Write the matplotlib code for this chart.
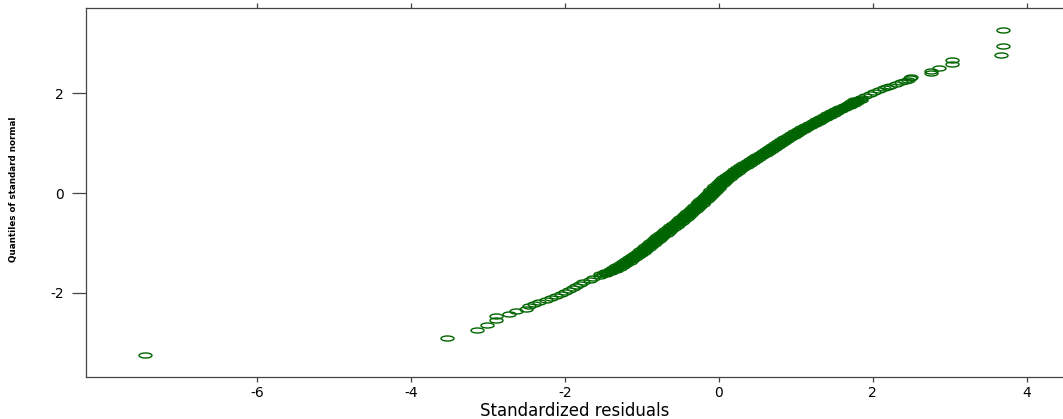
import numpy as np
import matplotlib
matplotlib.use("Agg")
import matplotlib.pyplot as plt
from matplotlib.path import Path

# QQ plot of standardized residuals
tail_lo_x = [-7.46, -3.53, -3.14, -3.01, -2.90, -2.90, -2.72, -2.63, -2.51, -2.47,
             -2.40, -2.33, -2.25, -2.18, -2.12, -2.05, -2.00, -1.95, -1.90, -1.85,
             -1.80, -1.76, -1.68, -1.64]
tail_lo_y = [-3.23, -2.90, -2.73, -2.63, -2.54, -2.46, -2.41, -2.35, -2.31, -2.26,
             -2.22, -2.18, -2.14, -2.10, -2.06, -2.02, -1.98, -1.94, -1.90, -1.86,
             -1.82, -1.78, -1.74, -1.70]

# dense middle part of the band
mid_y = [-1.66, -1.62, -1.60, -1.58, -1.56, -1.54, -1.52, -1.50, -1.48, -1.46,
         -1.44, -1.42, -1.40, -1.38, -1.36, -1.34, -1.32, -1.30, -1.28, -1.26,
         -1.24, -1.22, -1.20, -1.18, -1.16, -1.14, -1.12, -1.10, -1.08, -1.06,
         -1.04, -1.02, -1.00, -0.98, -0.96, -0.94, -0.92, -0.90, -0.88, -0.86,
         -0.84, -0.82, -0.80, -0.78, -0.76, -0.74, -0.72, -0.70, -0.68, -0.66,
         -0.64, -0.62, -0.60, -0.58, -0.56, -0.54, -0.52, -0.50, -0.48, -0.46,
         -0.44, -0.42, -0.40, -0.38, -0.36, -0.34, -0.32, -0.30, -0.28, -0.26,
         -0.24, -0.22, -0.20, -0.18, -0.16, -0.14, -0.12, -0.10, -0.08, -0.06,
         -0.04, -0.02, 0.00, 0.02, 0.04, 0.06, 0.08, 0.10, 0.12, 0.14,
         0.16, 0.18, 0.20, 0.22, 0.24, 0.26, 0.28, 0.30, 0.32, 0.34,
         0.36, 0.38, 0.40, 0.42, 0.44, 0.46, 0.48, 0.50, 0.52, 0.54,
         0.56, 0.58, 0.60, 0.62, 0.64, 0.66, 0.68, 0.70, 0.72, 0.74,
         0.76, 0.78, 0.80, 0.82, 0.84, 0.86, 0.88, 0.90, 0.92, 0.94,
         0.96, 0.98, 1.00, 1.02, 1.04, 1.06, 1.08, 1.10, 1.12, 1.14,
         1.16, 1.18, 1.20, 1.22, 1.24, 1.26, 1.28, 1.30, 1.32, 1.34,
         1.36, 1.38, 1.40, 1.42, 1.44, 1.46, 1.48, 1.50, 1.52, 1.54,
         1.56, 1.58, 1.60, 1.62, 1.64, 1.66, 1.68, 1.70, 1.72, 1.74,
         1.76, 1.78, 1.80, 1.82, 1.84, 1.86, 1.88, 1.90]
mid_x = [-1.55, -1.50, -1.47, -1.44, -1.41, -1.38, -1.35, -1.33, -1.31, -1.29,
         -1.26, -1.24, -1.22, -1.20, -1.18, -1.17, -1.15, -1.13, -1.11, -1.09,
         -1.07, -1.05, -1.03, -1.01, -0.99, -0.98, -0.96, -0.95, -0.93, -0.92,
         -0.90, -0.88, -0.87, -0.85, -0.83, -0.82, -0.80, -0.79, -0.77, -0.76,
         -0.74, -0.72, -0.71, -0.69, -0.67, -0.66, -0.64, -0.62, -0.61, -0.59,
         -0.57, -0.56, -0.54, -0.52, -0.51, -0.49, -0.47, -0.46, -0.44, -0.43,
         -0.41, -0.40, -0.38, -0.37, -0.35, -0.34, -0.32, -0.31, -0.29, -0.28,
         -0.26, -0.25, -0.24, -0.23, -0.21, -0.20, -0.18, -0.17, -0.15, -0.14,
         -0.13, -0.12, -0.10, -0.09, -0.08, -0.07, -0.05, -0.04, -0.03, -0.02,
         0.00, 0.01, 0.02, 0.04, 0.05, 0.07, 0.08, 0.10, 0.11, 0.13,
         0.15, 0.17, 0.19, 0.21, 0.22, 0.24, 0.26, 0.28, 0.30, 0.32,
         0.34, 0.36, 0.38, 0.40, 0.42, 0.44, 0.46, 0.48, 0.50, 0.52,
         0.55, 0.57, 0.59, 0.61, 0.63, 0.65, 0.67, 0.69, 0.71, 0.73,
         0.75, 0.77, 0.79, 0.81, 0.83, 0.85, 0.87, 0.89, 0.92, 0.94,
         0.96, 0.98, 1.00, 1.02, 1.05, 1.07, 1.09, 1.11, 1.14, 1.16,
         1.19, 1.21, 1.23, 1.26, 1.28, 1.30, 1.33, 1.35, 1.38, 1.40,
         1.43, 1.45, 1.47, 1.50, 1.53, 1.55, 1.58, 1.60, 1.63, 1.66,
         1.69, 1.72, 1.74, 1.76, 1.78, 1.80, 1.83, 1.85]

# scatter on either side of the band (it is wider than one marker)
side_y = [-1.62, -1.58, -1.54, -1.50, -1.46, -1.42, -1.38, -1.34, -1.30, -1.26,
          -1.22, -1.18, -1.14, -1.10, -1.06, -1.02, -0.98, -0.94, -0.90, -0.86,
          -0.82, -0.78, -0.74, -0.70, -0.66, -0.62, -0.58, -0.54, -0.50, -0.46,
          -0.42, -0.38, -0.34, -0.30, -0.26, -0.22, -0.18, -0.14, -0.10, -0.06,
          -0.02, 0.02, 0.06, 0.10, 0.14, 0.18, 0.22, 0.26, 0.30, 0.34,
          0.38, 0.42, 0.46, 0.50, 0.54, 0.58, 0.62, 0.66, 0.70, 0.74,
          0.78, 0.82, 0.86, 0.90, 0.94, 0.98, 1.02, 1.06, 1.10, 1.14,
          1.18, 1.22, 1.26, 1.30, 1.34, 1.38, 1.42, 1.46, 1.50, 1.54,
          1.58, 1.62, 1.66, 1.70, 1.74, 1.78, 1.82, 1.86]
side_x_left = [-1.54, -1.48, -1.42, -1.37, -1.33, -1.28, -1.24, -1.21, -1.17, -1.13,
               -1.09, -1.05, -1.02, -0.99, -0.96, -0.92, -0.89, -0.86, -0.83, -0.80,
               -0.76, -0.73, -0.70, -0.66, -0.63, -0.60, -0.56, -0.53, -0.50, -0.47,
               -0.44, -0.41, -0.38, -0.35, -0.32, -0.29, -0.27, -0.24, -0.21, -0.18,
               -0.16, -0.13, -0.11, -0.08, -0.06, -0.03, 0.00, 0.03, 0.06, 0.09,
               0.13, 0.17, 0.20, 0.24, 0.28, 0.32, 0.36, 0.40, 0.44, 0.48,
               0.53, 0.57, 0.61, 0.65, 0.69, 0.73, 0.77, 0.81, 0.85, 0.90,
               0.94, 0.98, 1.03, 1.07, 1.12, 1.17, 1.22, 1.26, 1.31, 1.36,
               1.41, 1.46, 1.51, 1.56, 1.62, 1.68, 1.72, 1.76]
side_x_right = [-1.46, -1.40, -1.34, -1.29, -1.25, -1.20, -1.16, -1.13, -1.09, -1.05,
                -1.01, -0.97, -0.94, -0.91, -0.88, -0.84, -0.81, -0.78, -0.75, -0.72,
                -0.68, -0.65, -0.62, -0.58, -0.55, -0.52, -0.48, -0.45, -0.42, -0.39,
                -0.36, -0.33, -0.30, -0.27, -0.24, -0.21, -0.19, -0.16, -0.13, -0.10,
                -0.08, -0.05, -0.03, 0.00, 0.02, 0.05, 0.08, 0.11, 0.14, 0.17,
                0.21, 0.25, 0.28, 0.32, 0.36, 0.40, 0.44, 0.48, 0.52, 0.56,
                0.61, 0.65, 0.69, 0.73, 0.77, 0.81, 0.85, 0.89, 0.93, 0.98,
                1.02, 1.06, 1.11, 1.15, 1.20, 1.25, 1.30, 1.34, 1.39, 1.44,
                1.49, 1.54, 1.59, 1.64, 1.70, 1.76, 1.80, 1.84]

tail_hi_x = [1.90, 1.96, 2.02, 2.08, 2.14, 2.18, 2.22, 2.30, 2.36, 2.42, 2.46, 2.48, 2.49,
             2.75, 2.76, 2.86, 3.03, 3.03, 3.67, 3.69, 3.69]
tail_hi_y = [1.94, 1.98, 2.02, 2.06, 2.10, 2.12, 2.14, 2.18, 2.21, 2.23, 2.26, 2.29, 2.32,
             2.39, 2.43, 2.49, 2.57, 2.66, 2.76, 2.93, 3.25]

resid = np.array(tail_lo_x + mid_x + side_x_left + side_x_right + tail_hi_x)
quant = np.array(tail_lo_y + mid_y + side_y + side_y + tail_hi_y)

# wide ellipse marker, the original output is stretched sideways
circ = Path.unit_circle()
ellipse = Path(circ.vertices * np.array([2.6, 1.0]), circ.codes)

fig = plt.figure(figsize=(10.63, 4.19), dpi=100)
ax = fig.add_axes([86 / 1063, 1 - 377 / 419, 1 - 86 / 1063, (377 - 8) / 419])

ax.plot(resid, quant, linestyle="none", marker=ellipse, markersize=9.4,
        markerfacecolor="none", markeredgecolor="#006400", markeredgewidth=1.0)

ax.set_xlim(-8.22, 4.47)
ax.set_ylim(-3.68, 3.70)
ax.set_xticks([-6, -4, -2, 0, 2, 4])
ax.set_yticks([-2, 0, 2])
ax.set_xticklabels(["-6", "-4", "-2", "0", "2", "4"])
ax.set_yticklabels(["-2", "0", "2"])

for s in ["left", "top", "bottom"]:
    ax.spines[s].set_color("#444444")
    ax.spines[s].set_linewidth(0.9)
ax.spines["right"].set_visible(False)

ax.tick_params(axis="x", which="both", top=True, bottom=True, direction="out",
               length=3.8, width=0.9, color="#444444", labelsize=10, pad=3)
ax.tick_params(axis="y", which="both", left=True, right=False, direction="out",
               length=10, width=0.9, color="#444444", labelsize=10, pad=6)

ax.set_xlabel("Standardized residuals", fontsize=12, labelpad=1)
ax.text(14 / 1063, 1 - 189 / 419, "Quantiles of standard normal", transform=fig.transFigure,
        rotation=90, ha="center", va="center", fontsize=6.3, fontweight="bold")

fig.savefig("out.png", dpi=100)
